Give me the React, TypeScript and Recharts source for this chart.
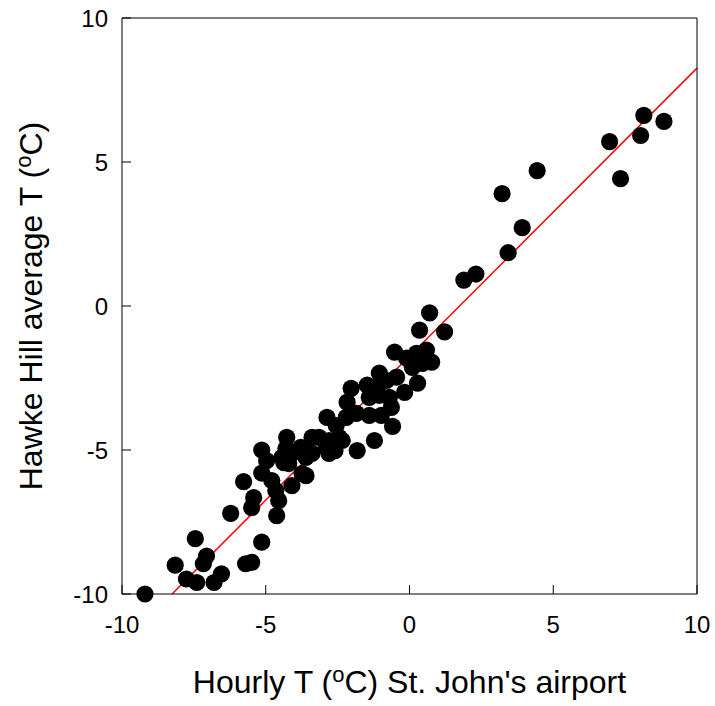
import React from "react";
import { ScatterChart, Scatter, XAxis, YAxis, ReferenceLine } from "recharts";

const hourlyT: number[] = [
  -9.2, -8.15, -7.76, -7.4, -6.8, -6.54, -7.17, -7.06, -7.45, -6.22,
  -5.7, -5.49, -5.14, -5.77, -5.14, -4.97, -5.14, -5.42, -5.49, -4.79,
  -4.65, -4.55, -4.62, -4.27, -4.3, -4.37, -4.09, -3.78, -3.6, -3.39,
  -3.39, -3.6, -4.09, -4.44, -4.2, -3.74, -3.5, -2.9, -3.15, -2.8,
  -2.45, -2.55, -2.2, -2.87, -1.82, -1.22, -0.59, -1.4, -0.98, -0.63,
  -2.17, -1.85, -2.03, -1.47, -1.15, -1.4, -1.05, -0.7, -0.17, 0.28,
  -1.05, -0.8, -0.45, -0.52, -0.1, 0.24, 0.59, 0.77, 0.45, 0.1,
  0.35, 0.7, 1.22, -2.8, -2.59, -2.34,
  1.89, 2.31, 3.43, 3.92, 3.22, 4.44, 6.96, 7.34, 8.04, 8.15, 8.85,
];

const hawkeHillT: number[] = [
  -10.0, -9.0, -9.48, -9.6, -9.6, -9.3, -8.95, -8.68, -8.08, -7.2,
  -8.95, -8.9, -8.2, -6.1, -5.0, -5.37, -5.8, -6.65, -7.0, -6.06,
  -6.41, -6.76, -7.28, -4.56, -4.95, -5.44, -5.12, -4.91, -5.26, -4.56,
  -5.12, -5.89, -6.24, -5.26, -5.47, -5.82, -5.12, -4.91, -4.56, -4.67,
  -4.56, -4.15, -3.87, -3.87, -5.02, -4.67, -4.18, -3.8, -3.8, -3.52,
  -3.34, -3.73, -2.86, -2.75, -2.86, -3.17, -3.1, -3.17, -3.0, -2.68,
  -2.33, -2.58, -2.47, -1.6, -1.81, -1.64, -1.53, -1.95, -1.99, -2.13,
  -0.84, -0.24, -0.9, -5.12, -5.02, -4.67,
  0.9, 1.11, 1.85, 2.72, 3.9, 4.7, 5.71, 4.42, 5.92, 6.62, 6.41,
];

const xTicks: number[] = [-10, -5, 0, 5, 10];
const yTicks: number[] = [-10, -5, 0, 5, 10];

const fitSlope = 1.0;
const fitIntercept = -1.74;

const data = hourlyT.map((x, i) => ({ x, y: hawkeHillT[i] }));

const FONT = "'Liberation Sans', Arial, Helvetica, sans-serif";
const TICK_FONT = 24;
const TITLE_FONT = 32;
const SUP_FONT = 22;
const SUP_SHIFT = 11;
const TICK_LEN = 9;
const M_BOTTOM = 21;
const M_LEFT = 14;
const M_TOP = 2;
const M_RIGHT = 2;

const Dot = (props: any) => (
  <circle cx={props.cx} cy={props.cy} r={8.6} fill="#000" />
);

const BottomTick = (props: any) => {
  const { x, y, payload } = props;
  const axisY = y - M_BOTTOM;
  return (
    <g>
      <line x1={x} y1={axisY} x2={x} y2={axisY - TICK_LEN} stroke="#000" strokeWidth={1} />
      <text x={x} y={y} dy={17.5} textAnchor="middle" fontFamily={FONT} fontSize={TICK_FONT} fill="#000">
        {payload.value}
      </text>
    </g>
  );
};

const LeftTick = (props: any) => {
  const { x, y, payload } = props;
  const axisX = x + M_LEFT;
  return (
    <g>
      <line x1={axisX} y1={y} x2={axisX + TICK_LEN} y2={y} stroke="#000" strokeWidth={1} />
      <text x={x} y={y} dy={8.5} textAnchor="end" fontFamily={FONT} fontSize={TICK_FONT} fill="#000">
        {payload.value}
      </text>
    </g>
  );
};

const TopTick = (props: any) => {
  const { x, y } = props;
  const axisY = y + M_TOP;
  return <line x1={x} y1={axisY} x2={x} y2={axisY + TICK_LEN} stroke="#000" strokeWidth={1} />;
};

const RightTick = (props: any) => {
  const { x, y } = props;
  const axisX = x - M_RIGHT;
  return <line x1={axisX} y1={y} x2={axisX - TICK_LEN} y2={y} stroke="#000" strokeWidth={1} />;
};

const XTitle = (props: any) => {
  const vb = props.viewBox || {};
  const cx = vb.x + vb.width / 2;
  return (
    <text x={cx} y={693} textAnchor="middle" fontFamily={FONT} fontSize={TITLE_FONT} fill="#000">
      Hourly T (<tspan dy={-SUP_SHIFT} fontSize={SUP_FONT}>o</tspan>
      <tspan dy={SUP_SHIFT}>C) St. John's airport</tspan>
    </text>
  );
};

const YTitle = (props: any) => {
  const vb = props.viewBox || {};
  const cy = vb.y + vb.height / 2;
  const x = 42;
  return (
    <text
      x={x}
      y={cy}
      textAnchor="middle"
      fontFamily={FONT}
      fontSize={TITLE_FONT}
      fill="#000"
      transform={`rotate(-90, ${x}, ${cy})`}
    >
      Hawke Hill average T (<tspan dy={-SUP_SHIFT} fontSize={SUP_FONT}>o</tspan>
      <tspan dy={SUP_SHIFT}>C)</tspan>
    </text>
  );
};

export default function App() {
  const xMin = -10;
  const xMax = 10;
  const yMin = -10;
  const yMax = 10;
  const lineStartX = (yMin - fitIntercept) / fitSlope;
  const lineEndY = fitSlope * xMax + fitIntercept;
  return (
    <div style={{ position: "absolute", left: 0, top: 0 }}>
      <ScatterChart
        width={715}
        height={706}
        margin={{ top: 17, right: 17, bottom: 72, left: 62 }}
      >
        <XAxis
          xAxisId="b"
          dataKey="x"
          type="number"
          domain={[xMin, xMax]}
          ticks={xTicks}
          orientation="bottom"
          height={40}
          tickSize={0}
          tickMargin={M_BOTTOM}
          tick={<BottomTick />}
          tickLine={false}
          axisLine={{ stroke: "#000", strokeWidth: 1 }}
          label={<XTitle />}
        />
        <XAxis
          xAxisId="t"
          type="number"
          domain={[xMin, xMax]}
          ticks={xTicks}
          orientation="top"
          height={1}
          tickSize={0}
          tickMargin={M_TOP}
          tick={<TopTick />}
          tickLine={false}
          axisLine={{ stroke: "#000", strokeWidth: 1 }}
        />
        <YAxis
          yAxisId="l"
          dataKey="y"
          type="number"
          domain={[yMin, yMax]}
          ticks={yTicks}
          orientation="left"
          width={60}
          tickSize={0}
          tickMargin={M_LEFT}
          tick={<LeftTick />}
          tickLine={false}
          axisLine={{ stroke: "#000", strokeWidth: 1 }}
          label={<YTitle />}
        />
        <YAxis
          yAxisId="r"
          type="number"
          domain={[yMin, yMax]}
          ticks={yTicks}
          orientation="right"
          width={1}
          tickSize={0}
          tickMargin={M_RIGHT}
          tick={<RightTick />}
          tickLine={false}
          axisLine={{ stroke: "#000", strokeWidth: 1 }}
        />
        <Scatter
          xAxisId="b"
          yAxisId="l"
          data={data}
          shape={<Dot />}
          isAnimationActive={false}
        />
        <ReferenceLine
          xAxisId="b"
          yAxisId="l"
          segment={[
            { x: lineStartX, y: yMin },
            { x: xMax, y: lineEndY },
          ]}
          stroke="#ff0000"
          strokeWidth={1.5}
        />
      </ScatterChart>
    </div>
  );
}
